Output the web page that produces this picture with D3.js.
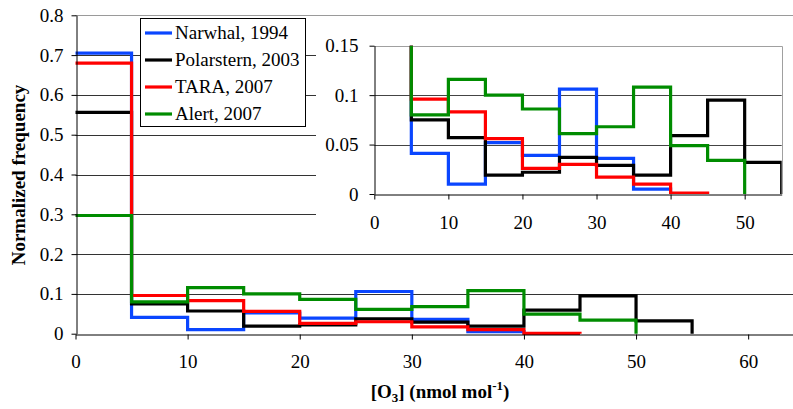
<!DOCTYPE html>
<html><head><meta charset="utf-8">
<script src="https://cdn.jsdelivr.net/npm/d3@7"></script>
<style>
body{margin:0;background:#fff;}
svg, svg text{font-family:"Liberation Serif","Times New Roman","DejaVu Serif",serif !important;}
</style></head>
<body><svg id="c" width="793" height="409"></svg>
<script>
// ---- data ----
const binWidth = 5;
const seriesNames = ["Narwhal, 1994", "Polarstern, 2003", "TARA, 2007", "Alert, 2007"];
const seriesColors = ["#0a46ff", "#000000", "#ff0000", "#008c00"];
const narwhal    = [0.705, 0.041, 0.010, 0.052, 0.039, 0.106, 0.036, 0.005];
const polarstern = [0.556, 0.075, 0.057, 0.019, 0.022, 0.037, 0.029, 0.019, 0.059, 0.095, 0.032];
const tara       = [0.680, 0.096, 0.083, 0.056, 0.026, 0.030, 0.017, 0.010, 0.001];
const alert      = [0.297, 0.080, 0.116, 0.100, 0.086, 0.061, 0.068, 0.108, 0.049, 0.034];
const mainXTicks = [0, 10, 20, 30, 40, 50, 60];
const mainYTicks = [0, 0.1, 0.2, 0.3, 0.4, 0.5, 0.6, 0.7, 0.8];
const insetXTicks = [0, 10, 20, 30, 40, 50];
const insetYTicks = [0, 0.05, 0.1, 0.15];
const mainXMax = 64, mainYMax = 0.8, insetXMax = 55, insetYMax = 0.15;

const allSeries = [narwhal, polarstern, tara, alert];
const svg = d3.select("#c");
const FONT = '"Liberation Serif","Times New Roman",serif';
const FS = "19px";

function stepPoints(v){
  const pts = v.map((d,i)=>[i*binWidth, d]);
  pts.push([v.length*binWidth, 0]);
  return pts;
}

// ---- main chart ----
const x = d3.scaleLinear().domain([0, mainXMax]).range([75.5, 793]);
const y = d3.scaleLinear().domain([0, mainYMax]).range([333.7, 15.3]);

const g = svg.append("g");
g.selectAll("line.grid").data(mainYTicks.filter(t=>t>0 && t<mainYMax)).join("line")
  .attr("x1", x(0)).attr("x2", x(mainXMax))
  .attr("y1", d=>Math.round(y(d))+0.5).attr("y2", d=>Math.round(y(d))+0.5)
  .attr("stroke", "#333").attr("stroke-width", 1);
g.append("line").attr("x1", x(0)).attr("x2", x(mainXMax))
  .attr("y1", Math.round(y(mainYMax))+0.5).attr("y2", Math.round(y(mainYMax))+0.5)
  .attr("stroke", "#9a9a9a");

const line = (sx, sy) => d3.line().x(d=>sx(d[0])).y(d=>sy(d[1])).curve(d3.curveStepAfter);

const mainLine = line(x, y);
g.selectAll("path.s").data(allSeries).join("path")
  .attr("d", d=>mainLine(stepPoints(d)))
  .attr("fill","none").attr("stroke",(d,i)=>seriesColors[i])
  .attr("stroke-width",3.2).attr("stroke-linejoin","miter");

function styleAxis(a){
  a.attr("font-family", null).attr("font-size", null);
  a.select(".domain").attr("stroke","#000");
  a.selectAll(".tick line").attr("stroke","#000");
  a.selectAll("text").style("font-family",FONT).style("font-size",FS).attr("fill","#000");
}
const xAxis = d3.axisBottom(x).tickValues(mainXTicks).tickSize(5).tickSizeOuter(0).tickPadding(15).tickFormat(d3.format("d"));
const yAxis = d3.axisLeft(y).tickValues(mainYTicks).tickSize(5).tickSizeOuter(0).tickPadding(8).tickFormat(d=>d===0?"0":d3.format(".1f")(d));
const gx = g.append("g").attr("transform",`translate(0,${Math.round(y(0))+0.5})`).call(xAxis);
const gy = g.append("g").attr("transform",`translate(${Math.round(x(0))+0.5},0)`).call(yAxis);
styleAxis(gx); styleAxis(gy);

// axis titles
svg.append("text").attr("transform","translate(24.5,175) rotate(-90)")
  .attr("text-anchor","middle").style("font-family",FONT).style("font-weight","bold").style("font-size",FS)
  .text("Normalized frequency");
const xt = svg.append("text").attr("x",440).attr("y",398)
  .attr("text-anchor","middle").style("font-family",FONT).style("font-weight","bold").style("font-size",FS);
xt.append("tspan").text("[O");
xt.append("tspan").style("font-size","13px").attr("dy",4).text("3");
xt.append("tspan").attr("dy",-4).text("] (nmol mol");
xt.append("tspan").style("font-size","13px").attr("dy",-8).text("-1");
xt.append("tspan").attr("dy",8).text(")");

// legend
const lg = svg.append("g");
lg.append("rect").attr("x",140.5).attr("y",18.5).attr("width",165).attr("height",108)
  .attr("fill","#fff").attr("stroke","#000");
seriesNames.forEach((n,i)=>{
  const yy = 33 + i*27;
  lg.append("line").attr("x1",145).attr("x2",172).attr("y1",yy).attr("y2",yy)
    .attr("stroke",seriesColors[i]).attr("stroke-width",3.2);
  lg.append("text").attr("x",175).attr("y",yy+6).style("font-family",FONT).style("font-size",FS).text(n);
});

// ---- inset ----
svg.append("rect").attr("x",316).attr("y",22).attr("width",477).attr("height",213).attr("fill","#fff");
const ix = d3.scaleLinear().domain([0, insetXMax]).range([374.3, 781.7]);
const iy = d3.scaleLinear().domain([0, insetYMax]).range([194, 45.7]);
const ig = svg.append("g");
ig.selectAll("line.igrid").data(insetYTicks.filter(t=>t>0 && t<insetYMax-1e-9)).join("line")
  .attr("x1", ix(0)).attr("x2", ix(insetXMax))
  .attr("y1", d=>Math.round(iy(d))+0.5).attr("y2", d=>Math.round(iy(d))+0.5)
  .attr("stroke","#444");
ig.append("path")
  .attr("d",`M${ix(0)},${Math.round(iy(insetYMax))+0.5}H${Math.round(ix(insetXMax))+0.5}V${iy(0)}`)
  .attr("fill","none").attr("stroke","#a0a0a0");
svg.append("clipPath").attr("id","iclip").append("rect")
  .attr("x", ix(0)).attr("y", iy(insetYMax)).attr("width", ix(insetXMax)-ix(0)).attr("height", iy(0)-iy(insetYMax));
const insetLine = line(ix, iy);
ig.append("g").attr("clip-path","url(#iclip)")
  .selectAll("path").data(allSeries).join("path")
  .attr("d", d=>insetLine(stepPoints(d)))
  .attr("fill","none").attr("stroke",(d,i)=>seriesColors[i])
  .attr("stroke-width",3.2).attr("stroke-linejoin","miter");
const ixAxis = d3.axisBottom(ix).tickValues(insetXTicks).tickSize(5).tickSizeOuter(0).tickPadding(16).tickFormat(d3.format("d"));
const iyAxis = d3.axisLeft(iy).tickValues(insetYTicks).tickSize(5).tickSizeOuter(0).tickPadding(11).tickFormat(d=>d===0?"0":String(d));
const igx = ig.append("g").attr("transform",`translate(0,${Math.round(iy(0))+0.5})`).call(ixAxis);
const igy = ig.append("g").attr("transform",`translate(${Math.round(ix(0))+0.5},0)`).call(iyAxis);
styleAxis(igx); styleAxis(igy);
</script></body></html>
